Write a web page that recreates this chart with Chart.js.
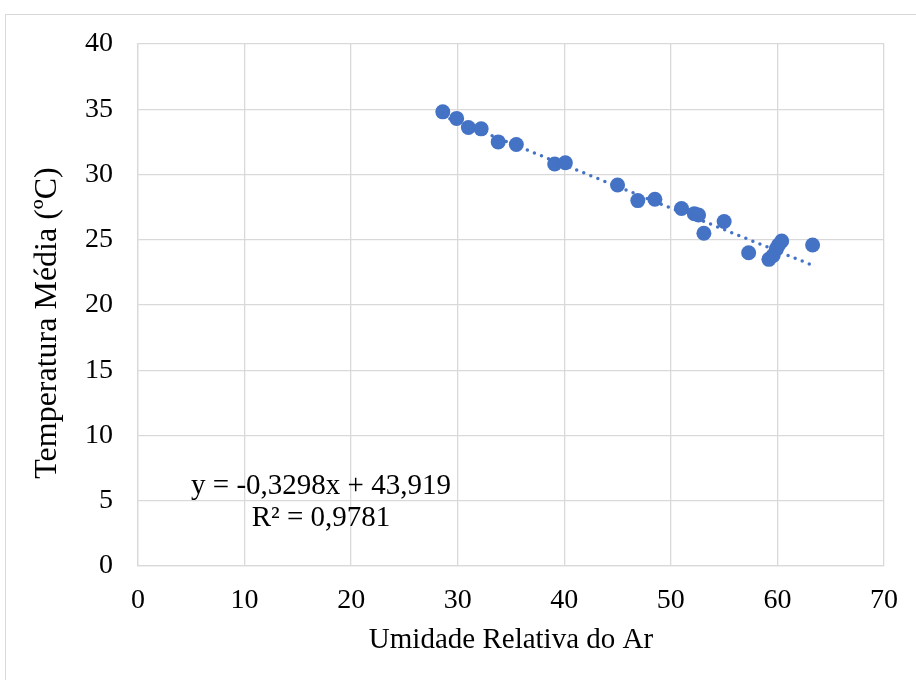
<!DOCTYPE html>
<html>
<head>
<meta charset="utf-8">
<script src="https://cdn.jsdelivr.net/npm/chart.js@4/dist/chart.umd.min.js"></script>
<style>
  body { margin: 0; background: #fff; overflow: hidden; }
  #frame { position: absolute; left: 5px; top: 14px; width: 1000px; height: 800px; border: 1px solid #d9d9d9; }
  #wrap { position: absolute; left: 0; top: 0; width: 916px; height: 680px; }
</style>
</head>
<body>
<div id="frame"></div>
<div id="wrap"><canvas id="myChart" width="916" height="680"></canvas></div>
<script>
// humidity (%) vs mean temperature (ºC)
var humidity = [28.6, 29.9, 31.0, 32.2, 33.8, 35.5, 39.1, 40.1, 45.0, 46.9, 48.5, 51.0,
    52.2, 52.6, 53.1, 55.0, 57.3, 59.2, 59.6, 59.9, 60.1, 60.4, 63.3];
var temperature = [34.8, 34.3, 33.6, 33.5, 32.5, 32.3, 30.8, 30.9, 29.2, 28.0, 28.1, 27.4,
    27.0, 26.9, 25.5, 26.4, 24.0, 23.5, 23.8, 24.3, 24.6, 24.9, 24.6];

// linear trendline
var slope = -0.3298;
var intercept = 43.919;
var rSquared = 0.9781;

var xTicks = [0, 10, 20, 30, 40, 50, 60, 70];
var yTicks = [0, 5, 10, 15, 20, 25, 30, 35, 40];

var blue = '#4472C4';
var gridGray = '#d9d9d9';
var serif = "'Liberation Serif', 'Times New Roman', serif";

function fmt(n) {
    return String(n).replace('.', ',');
}

var points = humidity.map(function (h, i) {
    return { x: h, y: temperature[i] };
});
var xMin = Math.min.apply(null, humidity);
var xMax = Math.max.apply(null, humidity);
var trend = [
    { x: xMin, y: slope * xMin + intercept },
    { x: xMax, y: slope * xMax + intercept }
];

// equation text and the vertical axis title
var extraText = {
    id: 'extraText',
    afterDraw: function (chart) {
        var ctx = chart.ctx;
        ctx.save();
        ctx.fillStyle = '#000';
        ctx.font = '29px ' + serif;
        ctx.textAlign = 'center';
        ctx.textBaseline = 'middle';
        var sign = intercept >= 0 ? ' + ' : ' - ';
        ctx.fillText('y = ' + fmt(slope) + 'x' + sign + fmt(Math.abs(intercept)), 321, 486);
        ctx.fillText('R² = ' + fmt(rSquared), 321, 518);

        ctx.translate(48, 323);
        ctx.rotate(-Math.PI / 2);
        ctx.font = '32px ' + serif;
        ctx.fillText('Temperatura Média (ºC)', 0, 0);
        ctx.restore();
    }
};

var ctx = document.getElementById('myChart').getContext('2d');
var chart = new Chart(ctx, {
    type: 'scatter',
    data: {
        datasets: [{
            data: points,
            backgroundColor: blue,
            borderColor: blue,
            pointRadius: 7.5,
            pointBorderWidth: 0,
            order: 2
        }, {
            type: 'line',
            data: trend,
            borderColor: blue,
            borderWidth: 3.5,
            borderDash: [0, 7.6],
            borderCapStyle: 'round',
            pointRadius: 0,
            fill: false,
            order: 1
        }]
    },
    options: {
        responsive: false,
        animation: false,
        layout: { padding: { left: 0, top: 44, right: 32, bottom: 0 } },
        plugins: {
            legend: { display: false },
            tooltip: { enabled: false }
        },
        scales: {
            x: {
                type: 'linear',
                min: 0,
                max: 70,
                afterBuildTicks: function (axis) {
                    axis.ticks = xTicks.map(function (v) { return { value: v }; });
                },
                afterFit: function (axis) { axis.height = 114; },
                grid: { color: gridGray, lineWidth: 1.3, drawTicks: false },
                border: { color: gridGray, width: 1.3 },
                ticks: { color: '#000', padding: 18, maxRotation: 0, font: { family: serif, size: 28 } },
                title: {
                    display: true,
                    text: 'Umidade Relativa do Ar',
                    color: '#000',
                    padding: { top: 0, bottom: 22 },
                    font: { family: serif, size: 29 }
                }
            },
            y: {
                min: 0,
                max: 40,
                afterBuildTicks: function (axis) {
                    axis.ticks = yTicks.map(function (v) { return { value: v }; });
                },
                afterFit: function (axis) { axis.width = 138; },
                grid: { color: gridGray, lineWidth: 1.3, drawTicks: false },
                border: { color: gridGray, width: 1.3 },
                ticks: { color: '#000', padding: 25, font: { family: serif, size: 28 } }
            }
        }
    },
    plugins: [extraText]
});
</script>
</body>
</html>
